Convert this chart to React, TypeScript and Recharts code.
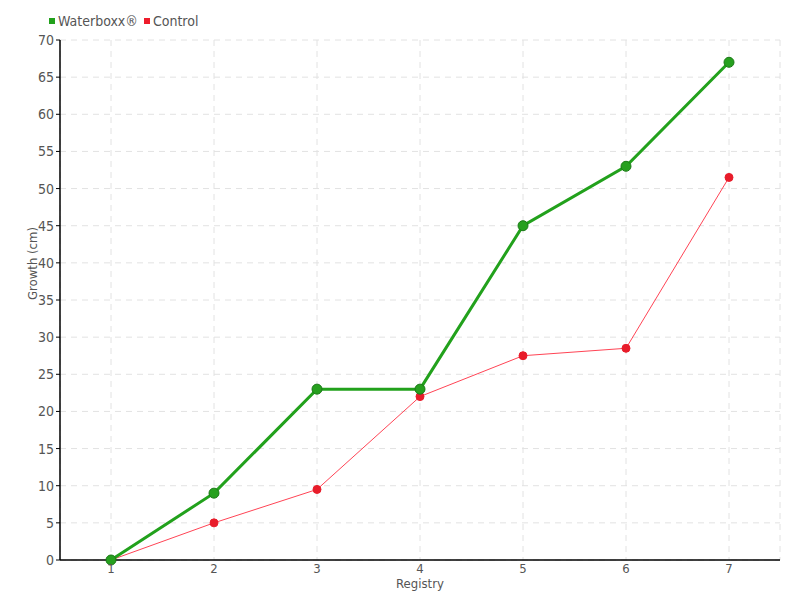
import React from "react";
import {
  LineChart,
  Line,
  XAxis,
  YAxis,
  CartesianGrid,
} from "recharts";

const registries = ["1", "2", "3", "4", "5", "6", "7"];
const waterboxx = [0, 9, 23, 23, 45, 53, 67];
const control = [0, 5, 9.5, 22, 27.5, 28.5, 51.5];
const yTicks = [0, 5, 10, 15, 20, 25, 30, 35, 40, 45, 50, 55, 60, 65, 70];

const series = [
  { key: "waterboxx", name: "Waterboxx®", color: "#22a11c" },
  { key: "control", name: "Control", color: "#ee1c2b" },
];

const data = registries.map((r, i) => ({
  registry: r,
  waterboxx: waterboxx[i],
  control: control[i],
}));

const font = "'DejaVu Sans Condensed', 'DejaVu Sans', sans-serif";
const textColor = "#555";

const App: React.FC = () => {
  return (
    <div
      style={{
        position: "absolute",
        left: 0,
        top: 0,
        width: 800,
        height: 600,
        background: "#fff",
        fontFamily: font,
      }}
    >
      <div
        style={{
          position: "absolute",
          left: 49,
          top: 13,
          display: "flex",
          gap: 6,
          fontSize: 14,
          color: textColor,
          zIndex: 1,
        }}
      >
        {series.map((s) => (
          <div key={s.key} style={{ display: "flex", alignItems: "center" }}>
            <span
              style={{
                display: "inline-block",
                width: 6,
                height: 6,
                background: s.color,
                marginRight: 3,
              }}
            />
            {s.name}
          </div>
        ))}
      </div>
      <LineChart
        width={800}
        height={600}
        data={data}
        margin={{ top: 40, right: 20, bottom: 0, left: 0 }}
      >
        <CartesianGrid stroke="#e2e2e2" strokeDasharray="6 5" />
        <XAxis
          dataKey="registry"
          padding={{ left: 51, right: 51 }}
          tickLine={false}
          axisLine={{ stroke: "#000", strokeWidth: 1.5 }}
          tick={{ fill: textColor, fontSize: 13, fontFamily: font }}
          tickMargin={-2}
          height={40}
          label={{
            value: "Registry",
            position: "insideTop",
            offset: 19,
            fill: textColor,
            fontSize: 13,
            fontFamily: font,
          }}
        />
        <YAxis
          domain={[0, 70]}
          ticks={yTicks}
          interval={0}
          width={60}
          tickSize={4}
          tickLine={{ stroke: "#000" }}
          axisLine={{ stroke: "#000", strokeWidth: 1.5 }}
          tick={{ fill: textColor, fontSize: 14, fontFamily: font }}
          label={{
            value: "Growth (cm)",
            angle: -90,
            position: "insideLeft",
            offset: 32,
            fill: textColor,
            fontSize: 13,
            fontFamily: font,
          }}
        />
        <Line
          dataKey="control"
          name="Control"
          stroke="#ff4455"
          strokeWidth={1}
          dot={{ r: 4, fill: "#e81c2a", stroke: "#e81c2a", strokeWidth: 1 }}
          isAnimationActive={false}
        />
        <Line
          dataKey="waterboxx"
          name="Waterboxx®"
          stroke="#22a11c"
          strokeWidth={3}
          dot={{ r: 5, fill: "#26a01e", stroke: "#1b7a17", strokeWidth: 1 }}
          isAnimationActive={false}
        />
      </LineChart>
    </div>
  );
};

export default App;
